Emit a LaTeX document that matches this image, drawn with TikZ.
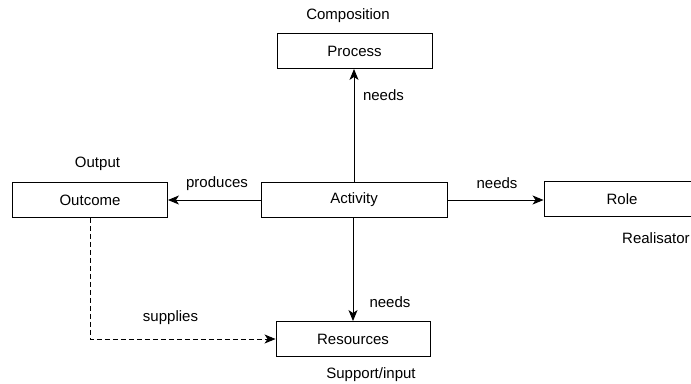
\documentclass[tikz,border=0pt]{standalone}
\usepackage{fontspec}
\setmainfont{Liberation Sans}
\usetikzlibrary{arrows.meta, positioning}

\begin{document}
\begin{tikzpicture}[
        x=1pt, y=-1pt,
        box/.style={draw, line width=0.9pt, minimum height=35pt, inner sep=0pt, font=\fontsize{15}{17}\selectfont},
        lbl/.style={inner sep=0pt, font=\fontsize{15}{17}\selectfont},
        link/.style={-{Stealth[length=11pt, width=9pt, inset=3pt]}, line width=0.9pt}
    ]

        % Frame of the picture
        \useasboundingbox (0,0) rectangle (691,383);
        \clip (0,0) rectangle (691,383);

        % Boxes
        \node[box, minimum width=155pt] (process) at (354.5,51) {Process};
        \node[box, minimum width=155pt] (outcome) at (90,200) {Outcome};
        \node[box, minimum width=186pt] (activity) at (354,200) {Activity};
        \node[box, minimum width=156pt] (role) at (622,199) {Role};
        \node[box, minimum width=154pt] (resources) at (353,339) {Resources};

        % Labels
        \node[lbl] (composition) at (348,16) {Composition};
        \node[lbl] (output) at (97.5,164) {Output};
        \node[lbl, anchor=west] (realisator) at (622,238) {Realisator};
        \node[lbl] (support) at (371,375) {Support/input};

        \node[lbl] (needsup) at (383.5,95) {needs};
        \node[lbl] (produces) at (217,184) {produces};
        \node[lbl] (needsright) at (497,183) {needs};
        \node[lbl] (needsdown) at (390,302) {needs};
        \node[lbl] (supplies) at (170.5,318) {supplies};

        % Connectors
        \draw[link] (activity.north) -- (activity.north |- process.south);
        \draw[link] (activity.west) -- (outcome.east);
        \draw[link] (activity.east) -- (activity.east -| role.west);
        \draw[link] (activity.south -| resources.north) -- (resources.north);
        \draw[link, dash pattern=on 5pt off 3pt] (outcome.south) |- (resources.west);

    \end{tikzpicture}
\end{document}
